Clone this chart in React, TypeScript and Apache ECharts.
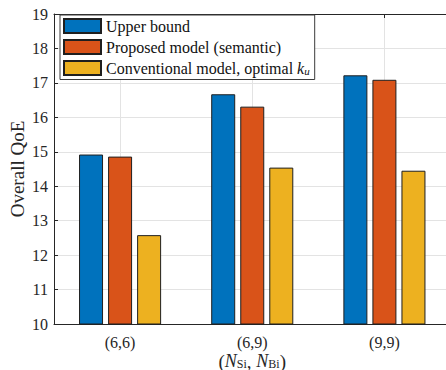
import React, { useEffect, useRef } from "react";
import * as echarts from "echarts";

// System-size pairs on the x axis
const categories = ["(6,6)", "(6,9)", "(9,9)"];

// Overall QoE per configuration
const upperBound = [14.92, 16.67, 17.22];
const proposedSemantic = [14.86, 16.31, 17.09];
const conventionalOptimal = [12.58, 14.54, 14.45];

// Value axis range
const yMin = 10;
const yMax = 19;
const yStep = 1;

const seriesNames = [
  "Upper bound",
  "Proposed model (semantic)",
  "Conventional model, optimal k_u",
];

const FONT = "Liberation Serif";
const INK = "#262626";
const GRID = "#e3e3e3";
const EDGE = "#1f1f1f";

export default function App() {
  const ref = useRef<HTMLDivElement>(null);

  useEffect(() => {
    if (!ref.current) return;
    const chart = echarts.init(ref.current, undefined, { renderer: "svg" });

    const barStyle = (color: string) => ({
      color,
      borderColor: EDGE,
      borderWidth: 1,
    });

    chart.setOption({
      animation: false,
      backgroundColor: "#ffffff",
      textStyle: { fontFamily: FONT, color: INK },
      grid: { left: 54, top: 14, right: 1.5, bottom: 46, outerBoundsMode: "none", containLabel: false },
      legend: {
        orient: "vertical",
        left: 60,
        top: 15,
        padding: [3, 5, 3, 3],
        itemWidth: 37,
        itemHeight: 14,
        itemGap: 5,
        icon: "rect",
        backgroundColor: "#ffffff",
        borderColor: "#3a3a3a",
        borderWidth: 1,
        data: seriesNames,
        textStyle: {
          fontFamily: FONT,
          fontSize: 16,
          color: "#111",
          rich: {
            i: { fontFamily: FONT, fontSize: 16, fontStyle: "italic", color: "#111" },
            s: {
              fontFamily: FONT,
              fontSize: 11,
              fontStyle: "italic",
              color: "#111",
              verticalAlign: "bottom",
              padding: [6, 0, 0, 0],
            },
          },
        },
        formatter: (name: string) =>
          name === seriesNames[2] ? "Conventional model, optimal {i|k}{s|u}" : name,
      },
      xAxis: [
        {
          type: "category",
          data: categories,
          position: "bottom",
          boundaryGap: true,
          name: "{p|(}{i|N}{s|Si}{p|, }{i|N}{s|Bi}{p|)}",
          nameLocation: "middle",
          nameGap: 28,
          nameMoveOverlap: false,
          nameTextStyle: {
            fontFamily: FONT,
            fontSize: 18,
            color: INK,
            verticalAlign: "top",
            rich: {
              p: { fontFamily: FONT, fontSize: 19, color: INK, lineHeight: 18 },
              i: { fontFamily: FONT, fontSize: 18, fontStyle: "italic", color: INK, lineHeight: 18 },
              s: {
                fontFamily: FONT,
                fontSize: 12,
                color: INK,
                verticalAlign: "bottom",
                lineHeight: 12,
                padding: [6, 0, 0, 0],
              },
            },
          },
          axisLine: { show: true, lineStyle: { color: INK, width: 1 } },
          axisTick: { show: true, inside: true, length: 4, alignWithLabel: true, lineStyle: { color: INK } },
          axisLabel: { fontFamily: FONT, fontSize: 16, color: INK, margin: 10 },
          splitLine: { show: true, alignWithLabel: true, lineStyle: { color: GRID, width: 1 } },
        },
        {
          type: "category",
          data: categories,
          position: "top",
          boundaryGap: true,
          axisLine: { show: true, onZero: false, lineStyle: { color: INK, width: 1 } },
          axisTick: { show: true, inside: true, length: 4, alignWithLabel: true, lineStyle: { color: INK } },
          axisLabel: { show: false },
          splitLine: { show: false },
        },
      ],
      yAxis: [
        {
          type: "value",
          min: yMin,
          max: yMax,
          interval: yStep,
          position: "left",
          name: "Overall QoE",
          nameLocation: "middle",
          nameGap: 27,
          nameMoveOverlap: false,
          nameTextStyle: { fontFamily: FONT, fontSize: 19, color: INK },
          axisLine: { show: true, lineStyle: { color: INK, width: 1 } },
          axisTick: { show: true, inside: true, length: 4, lineStyle: { color: INK } },
          axisLabel: { fontFamily: FONT, fontSize: 16, color: INK, margin: 6 },
          splitLine: { show: true, lineStyle: { color: GRID, width: 1 } },
        },
        {
          type: "value",
          min: yMin,
          max: yMax,
          interval: yStep,
          position: "right",
          axisLine: { show: true, onZero: false, lineStyle: { color: INK, width: 1 } },
          axisTick: { show: true, inside: true, length: 4, lineStyle: { color: INK } },
          axisLabel: { show: false },
          splitLine: { show: false },
        },
      ],
      series: [
        {
          name: seriesNames[0],
          type: "bar",
          data: upperBound,
          barWidth: 24,
          barGap: "21%",
          itemStyle: barStyle("#0072BD"),
        },
        {
          name: seriesNames[1],
          type: "bar",
          data: proposedSemantic,
          barWidth: 24,
          barGap: "21%",
          itemStyle: barStyle("#D95319"),
        },
        {
          name: seriesNames[2],
          type: "bar",
          data: conventionalOptimal,
          barWidth: 24,
          barGap: "21%",
          itemStyle: barStyle("#EDB120"),
        },
      ],
    });

    return () => chart.dispose();
  }, []);

  return (
    <div
      ref={ref}
      style={{ position: "fixed", left: 0, top: 0, width: 452, height: 370, background: "#fff" }}
    />
  );
}
